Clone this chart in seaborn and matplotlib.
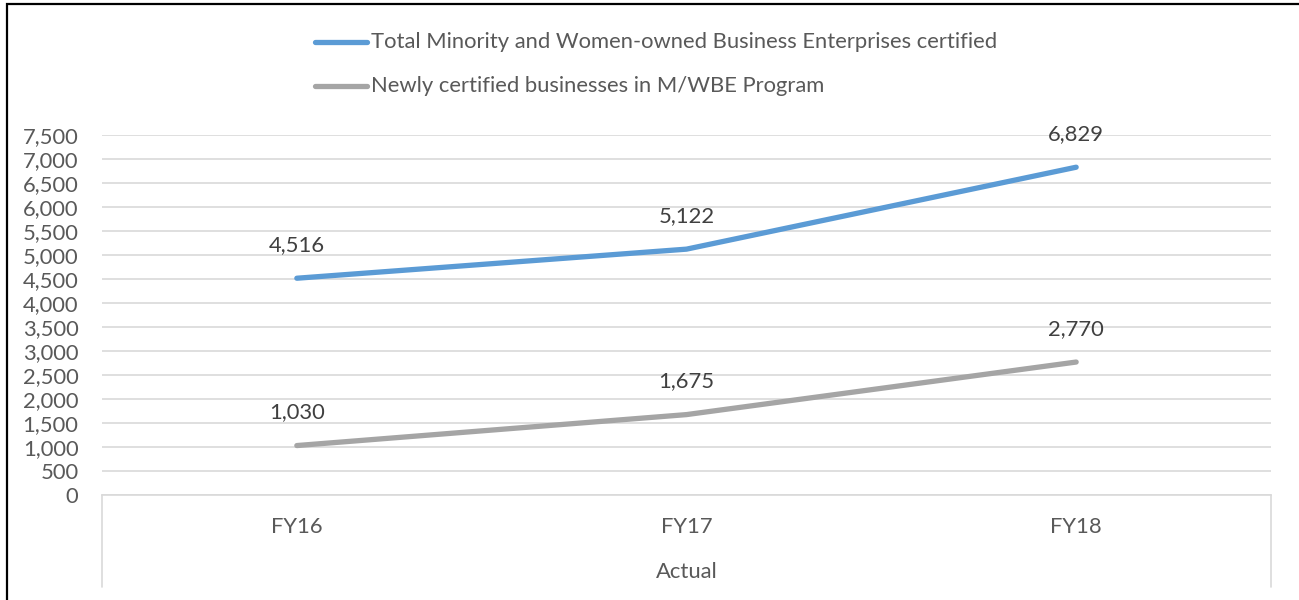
import matplotlib
matplotlib.use("Agg")
import matplotlib.pyplot as plt
import seaborn as sns
import pandas as pd
from matplotlib.patches import Rectangle

years = ["FY16", "FY17", "FY18"]
total_mwbe = [4516, 5122, 6829]
newly_certified = [1030, 1675, 2770]
series_names = ["Total Minority and Women-owned Business Enterprises certified",
                "Newly certified businesses in M/WBE Program"]
group_label = "Actual"
y_ticks = list(range(0, 7501, 500))

df = pd.DataFrame({
    "Year": years * 2,
    "Count": total_mwbe + newly_certified,
    "Series": [series_names[0]] * 3 + [series_names[1]] * 3,
})

sns.set_theme(style="white")
plt.rcParams["font.family"] = ["Lato", "DejaVu Sans"]
FS = 15.8

fig = plt.figure(figsize=(12.99, 6.0), dpi=100)
ax = fig.add_axes([102 / 1299, 1 - 495 / 600, (1271 - 102) / 1299, 360 / 600])

palette = {series_names[0]: "#5B9BD5", series_names[1]: "#A5A5A5"}
sns.lineplot(data=df, x="Year", y="Count", hue="Series", palette=palette,
             linewidth=3.8, ax=ax, legend=False, sort=False)
for line in ax.lines:
    line.set_solid_capstyle("round")

for vals in (total_mwbe, newly_certified):
    for i, v in enumerate(vals):
        ax.annotate(f"{v:,}", (i, v), xytext=(0, 24), textcoords="offset points",
                    ha="center", va="center", fontsize=FS, color="#404040")

ax.set_xlim(-0.5, 2.5)
ax.set_ylim(0, 7500)
ax.set_yticks(y_ticks)
ax.set_yticklabels([f"{t:,}" for t in y_ticks])
ax.yaxis.grid(True, color="#D9D9D9", linewidth=1.2)
ax.set_axisbelow(True)
for s in ["top", "right", "left"]:
    ax.spines[s].set_visible(False)
ax.spines["bottom"].set_color("#D9D9D9")
ax.spines["bottom"].set_linewidth(1.2)
ax.tick_params(axis="y", length=0, labelsize=FS, labelcolor="#595959", pad=17)
ax.tick_params(axis="x", length=0, labelsize=FS, labelcolor="#595959", pad=16)
ax.set_xlabel("")
ax.set_ylabel("")

# category group separators below the axis
sep = -(587 - 495) / 360
for xe in (0, 1):
    ax.plot([xe, xe], [0, sep], transform=ax.transAxes, color="#D9D9D9",
            linewidth=1.2, clip_on=False)
ax.text(0.5, -(572 - 495) / 360, group_label, transform=ax.transAxes,
        ha="center", va="center", fontsize=FS, color="#595959")

# legend drawn at top
for name, ly in zip(series_names, [42, 86]):
    yf = 1 - ly / 600
    fig.add_artist(plt.Line2D([315 / 1299, 367 / 1299], [yf, yf], color=palette[name],
                              linewidth=3.8, solid_capstyle="round"))
    fig.text(371 / 1299, yf, name, ha="left", va="center", fontsize=FS, color="#595959")

fig.add_artist(Rectangle((7 / 1299, -0.1), 1.2, 1.1 - 4 / 600, transform=fig.transFigure,
                         fill=False, edgecolor="black", linewidth=1.6))

fig.savefig("out.png", dpi=100)
